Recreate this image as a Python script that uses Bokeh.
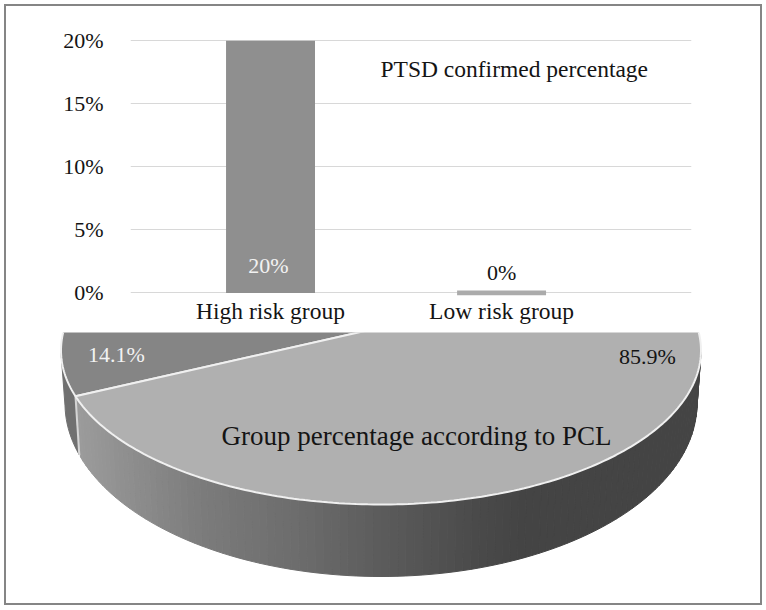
import numpy as np
from bokeh.embed import file_html
from bokeh.resources import INLINE
from bokeh.plotting import figure
from bokeh.layouts import column
from bokeh.models import Range1d, FixedTicker, Label
from bokeh.core.properties import value

# data
categories = ["High risk group", "Low risk group"]
confirmed = [20, 0]
confirmed_labels = ["20%", "0%"]
y_ticks = [0, 5, 10, 15, 20]
pie_labels = ["14.1%", "85.9%"]
pie_values = [14.1, 85.9]
chart_title = "PTSD confirmed percentage"
pie_title = "Group percentage according to PCL"

FONT = "Liberation Serif"
INK = "#141414"

# ---------- bar chart ----------
positions = list(range(1, len(categories) + 1))
top = figure(width=754, height=326, output_backend="svg", toolbar_location=None,
             x_range=Range1d(0.394, 2.822), y_range=Range1d(-0.2, 20.1),
             min_border_left=124, min_border_right=69, min_border_top=33, min_border_bottom=37,
             outline_line_color=None, border_fill_color="white")
top.xgrid.visible = False
top.ygrid.ticker = FixedTicker(ticks=y_ticks)
top.ygrid.grid_line_color = "#d8d8d8"
top.ygrid.grid_line_width = 1

top.yaxis.ticker = FixedTicker(ticks=y_ticks)
top.yaxis.major_label_overrides = {t: f"{t}%" for t in y_ticks}
top.yaxis.major_label_text_font = FONT
top.yaxis.major_label_text_font_size = "22px"
top.yaxis.major_label_text_color = INK
top.yaxis.major_label_standoff = 21
top.yaxis.axis_line_color = None
top.yaxis.major_tick_line_color = None
top.yaxis.minor_tick_line_color = None

top.xaxis.ticker = FixedTicker(ticks=positions)
top.xaxis.major_label_overrides = {p: c for p, c in zip(positions, categories)}
top.xaxis.major_label_text_font = FONT
top.xaxis.major_label_text_font_size = "23.5px"
top.xaxis.major_label_text_color = INK
top.xaxis.major_label_standoff = -4
top.xaxis.axis_line_color = None
top.xaxis.major_tick_line_color = None
top.xaxis.minor_tick_line_color = None

top.vbar(x=positions, top=confirmed, bottom=0, width=0.385,
         fill_color=["#8f8f8f", "#ababab"], line_color=["#8f8f8f", "#ababab"],
         line_width=[0, 5])
top.text(x=positions, y=[0, 0], text=confirmed_labels,
         text_color=["#f2f2f2", INK], text_font=value(FONT), text_font_size="22px",
         text_align="center", text_baseline="middle",
         x_offset=[-2, 0], y_offset=[-27, -20])
top.add_layout(Label(x=250, y=227, x_units="screen", y_units="screen", text=chart_title,
                     text_font=FONT, text_font_size="23.5px", text_color=INK,
                     text_baseline="middle"))

# ---------- 3D pie ----------
bottom = figure(width=754, height=271, output_backend="svg", toolbar_location=None,
                x_range=Range1d(6, 760), y_range=Range1d(603, 332),
                min_border=0, outline_line_color=None, border_fill_color="white",
                x_axis_location=None, y_axis_location=None)
bottom.grid.visible = False

cx, cy, rx, ry = 380.5, 350.0, 320.0, 154.0
lo_rx, lo_cy, lo_ry = 316.0, 403.0, 173.0
apex = (380.0, 327.0)
start_deg = 162.7


def upper(t):
    r = np.radians(t)
    return cx + rx * np.cos(r), cy + ry * np.sin(r)


def lower(t):
    r = np.radians(t)
    return cx + lo_rx * np.cos(r), lo_cy + lo_ry * np.sin(r)


def side_grey(x):
    g = np.interp(x, [75, 130, 200, 300, 370, 480, 530, 700],
                  [156, 142, 124, 108, 94, 74, 68, 68])
    g = int(g)
    return f"#{g:02x}{g:02x}{g:02x}"


# side wall: big slice strips, then the small slice's wall
step = 1.5
ts = np.arange(0, start_deg + 0.01, step)
sx, sy, sc = [], [], []
for a, b in zip(ts[:-1], ts[1:]):
    ux0, uy0 = upper(a); ux1, uy1 = upper(b)
    lx0, ly0 = lower(a); lx1, ly1 = lower(b)
    sx.append([ux0, ux1, lx1, lx0])
    sy.append([uy0, uy1, ly1, ly0])
    sc.append(side_grey((ux0 + ux1) / 2))
bottom.patches(sx, sy, fill_color=sc, line_color=sc, line_width=1)

t_left = np.arange(start_deg, 180.01, 1.5)
ul = [upper(t) for t in t_left]
ll = [lower(t) for t in t_left[::-1]]
bottom.patch([p[0] for p in ul + ll], [p[1] for p in ul + ll],
             fill_color="#707070", line_color="#707070", line_width=1)
bottom.line([upper(start_deg)[0], lower(start_deg)[0]], [upper(start_deg)[1], lower(start_deg)[1]],
            line_color="#d4d4d4", line_width=2)

# top faces, angles taken from the values
small_sweep = 360 * pie_values[0] / sum(pie_values)
t_small = np.linspace(start_deg, start_deg + small_sweep, 60)
t_big = np.linspace(start_deg + small_sweep, start_deg + 360, 300)
for ts_, fill in [(t_small, "#858585"), (t_big, "#b0b0b0")]:
    pts = [upper(t) for t in ts_]
    bottom.patch([apex[0]] + [p[0] for p in pts], [apex[1]] + [p[1] for p in pts],
                 fill_color=fill, line_color="#f0f0f0", line_width=2)

bottom.text(x=[116, 647, 416], y=[354, 356, 435],
            text=[pie_labels[0], pie_labels[1], pie_title],
            text_color=["#f2f2f2", INK, INK], text_font=value(FONT),
            text_font_size=["22px", "22px", "27px"],
            text_align="center", text_baseline="middle")

page = column(top, column(bottom), spacing=0,
              styles={"border": "2px solid #858585", "position": "absolute", "left": "4px", "top": "4px"})
open("out.html", "w").write(file_html(page, INLINE))
